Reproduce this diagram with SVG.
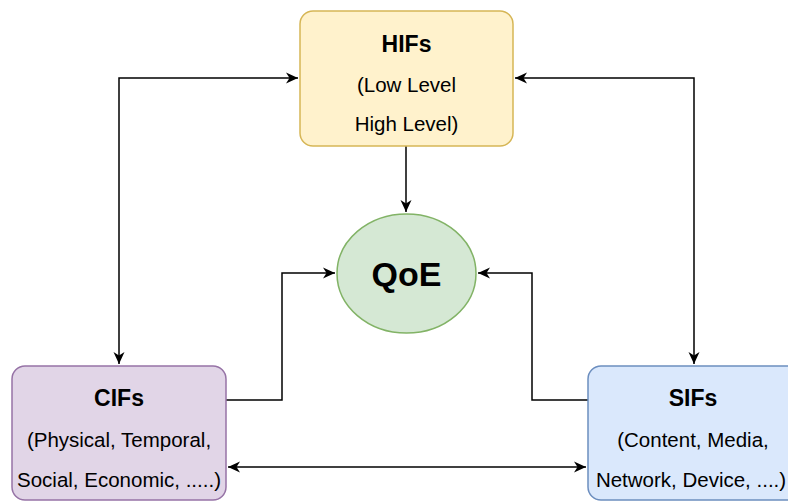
<svg xmlns="http://www.w3.org/2000/svg" width="788" height="501" viewBox="0 0 788 501">
<style>
  .t{font-family:"Liberation Sans",Arial,sans-serif;font-size:20.5px;fill:#000;text-anchor:middle}
  .b{font-weight:bold;font-size:23px}
  .q{font-weight:bold;font-size:34px}
  .c{fill:none;stroke:#000;stroke-width:1.5}
</style>
<defs>
  <marker id="ah" markerUnits="userSpaceOnUse" markerWidth="14" markerHeight="12" refX="12" refY="5.5" orient="auto-start-reverse" viewBox="0 0 14 11">
    <path d="M0,0 L12,5.5 L0,11 L3.5,5.5 z" fill="#000"/>
  </marker>
</defs>
<rect width="788" height="501" fill="#fff"/>
<g id="connectors">
  <path class="c" d="M406,146 V212" marker-end="url(#ah)"/>
  <path class="c" d="M119,364 V78 H298" marker-start="url(#ah)" marker-end="url(#ah)"/>
  <path class="c" d="M515,78 H694 V364" marker-start="url(#ah)" marker-end="url(#ah)"/>
  <path class="c" d="M226,400 H282 V273 H335" marker-end="url(#ah)"/>
  <path class="c" d="M588,400 H532 V273 H478" marker-end="url(#ah)"/>
  <path class="c" d="M228,467 H586" marker-start="url(#ah)" marker-end="url(#ah)"/>
</g>
<g id="hifs">
  <rect x="300" y="11" width="213" height="135" rx="13" fill="#fff2cc" stroke="#d6b656" stroke-width="1.5"/>
  <text class="t b" x="406.5" y="52">HIFs</text>
  <text class="t" x="406.5" y="92">(Low Level</text>
  <text class="t" x="406.5" y="131">High Level)</text>
</g>
<g id="qoe">
  <ellipse cx="406.5" cy="273.5" rx="69.5" ry="59.5" fill="#d5e8d4" stroke="#82b366" stroke-width="1.5"/>
  <text class="t q" x="406.5" y="286">QoE</text>
</g>
<g id="cifs">
  <rect x="12" y="366" width="214" height="134" rx="13" fill="#e1d5e7" stroke="#9673a6" stroke-width="1.5"/>
  <text class="t b" x="119" y="406">CIFs</text>
  <text class="t" x="119" y="447">(Physical, Temporal,</text>
  <text class="t" x="119" y="487">Social, Economic, .....)</text>
</g>
<g id="sifs">
  <rect x="588" y="366" width="214" height="134" rx="13" fill="#dae8fc" stroke="#6c8ebf" stroke-width="1.5"/>
  <text class="t b" x="693" y="406">SIFs</text>
  <text class="t" x="693" y="447">(Content, Media,</text>
  <text class="t" x="691" y="487">Network, Device, ....)</text>
</g>
</svg>
